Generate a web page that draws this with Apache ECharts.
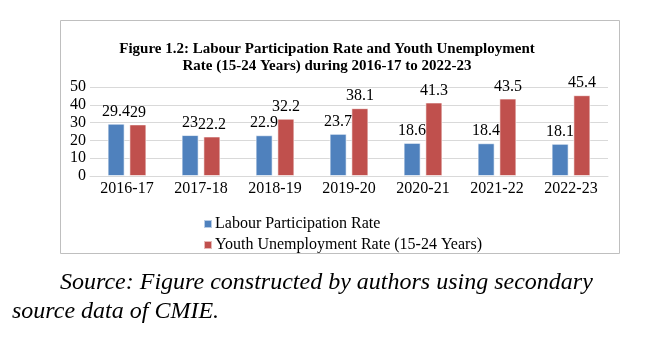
<!DOCTYPE html>
<html>
<head>
<meta charset="utf-8">
<script src="https://cdn.jsdelivr.net/npm/echarts@6/dist/echarts.min.js"></script>
<style>
  html, body { margin: 0; padding: 0; background: #fff; }
  #main { width: 671px; height: 353px; }
</style>
</head>
<body>
<div id="main"></div>
<script>
// data
var years = ["2016-17", "2017-18", "2018-19", "2019-20", "2020-21", "2021-22", "2022-23"];
var labourRate = [29.4, 23, 22.9, 23.7, 18.6, 18.4, 18.1];
var youthUnemp = [29, 22.2, 32.2, 38.1, 41.3, 43.5, 45.4];
var legendNames = ["Labour Participation Rate", "Youth Unemployment Rate (15-24 Years)"];

var serif = "'Liberation Serif', 'Times New Roman', serif";
var colors = ["#4f81bd", "#c0504d"];

var chart = echarts.init(document.getElementById("main"));

function barSeries(i, values) {
  return {
    name: legendNames[i],
    type: "bar",
    data: values,
    barWidth: 17,
    barGap: "28%",
    itemStyle: {
      color: colors[i],
      borderColor: "rgba(255,255,255,0.6)",
      borderWidth: 1
    },
    label: {
      show: true,
      position: "top",
      distance: 4,
      color: "#000",
      fontFamily: serif,
      fontSize: 16
    }
  };
}

var option = {
  animation: false,
  backgroundColor: "#fff",
  color: colors,
  title: {
    text: "Figure 1.2: Labour Participation Rate and Youth Unemployment\nRate (15-24 Years) during 2016-17 to 2022-23",
    left: 322,
    textAlign: "center",
    top: 36,
    textStyle: {
      fontFamily: serif,
      fontWeight: "bold",
      fontSize: 15,
      lineHeight: 17,
      color: "#000"
    }
  },
  legend: {
    orient: "vertical",
    left: 198,
    top: 211,
    itemWidth: 8,
    itemHeight: 8,
    itemGap: 5,
    icon: "rect",
    data: legendNames,
    textStyle: {
      fontFamily: serif,
      fontSize: 16,
      color: "#000",
      padding: [0, 0, 0, -2]
    }
  },
  grid: {
    left: 90,
    right: 63,
    top: 87,
    bottom: 177
  },
  xAxis: {
    type: "category",
    data: years,
    axisTick: { show: false },
    axisLine: { lineStyle: { color: "#d9d9d9" } },
    axisLabel: {
      color: "#000",
      fontFamily: serif,
      fontSize: 16,
      margin: 5,
      interval: 0
    }
  },
  yAxis: {
    type: "value",
    min: 0,
    max: 50,
    interval: 10,
    axisLine: { show: false },
    axisTick: { show: false },
    axisLabel: {
      color: "#000",
      fontFamily: serif,
      fontSize: 16,
      margin: 4
    },
    splitLine: { lineStyle: { color: "#d9d9d9" } }
  },
  graphic: [
    {
      type: "rect",
      shape: { x: 60.5, y: 20.5, width: 559, height: 233 },
      style: { fill: "none", stroke: "#bfbfbf", lineWidth: 1 },
      z: -1
    },
    {
      type: "text",
      left: 60,
      top: 271,
      style: {
        text: "Source: Figure constructed by authors using secondary",
        font: "italic 24px " + serif,
        fill: "#000"
      }
    },
    {
      type: "text",
      left: 12,
      top: 300,
      style: {
        text: "source data of CMIE.",
        font: "italic 24px " + serif,
        fill: "#000"
      }
    }
  ],
  series: [barSeries(0, labourRate), barSeries(1, youthUnemp)]
};

chart.setOption(option);
</script>
</body>
</html>
